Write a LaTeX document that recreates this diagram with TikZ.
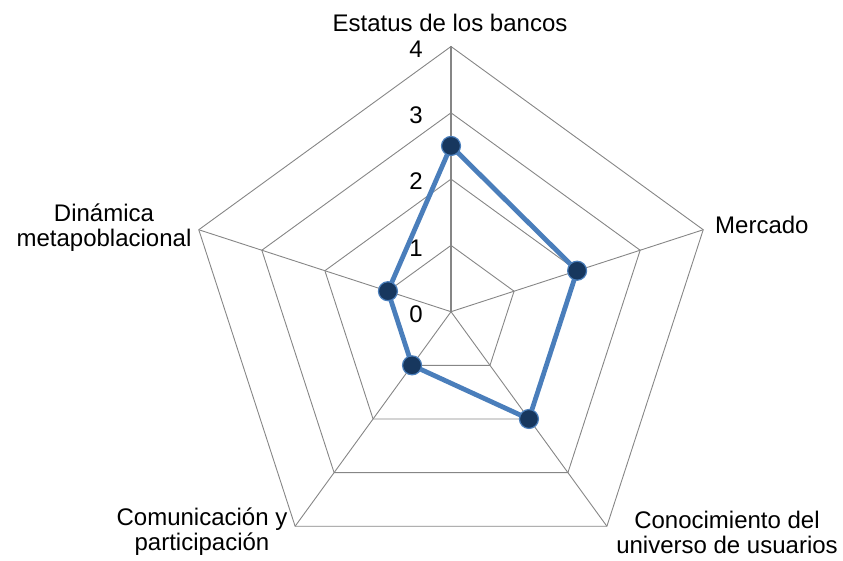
\documentclass[tikz,border=0pt]{standalone}
\usepackage{fontspec}
\setmainfont{Liberation Sans}
\usetikzlibrary{calc}
\definecolor{gridgray}{HTML}{868686}
\definecolor{serieblue}{HTML}{4A7EBB}
\definecolor{markerfill}{HTML}{17375E}
\begin{document}
\begin{tikzpicture}[x=1pt,y=1pt,
  gridline/.style={draw=gridgray,line width=0.9pt,line join=miter},
  spoke/.style={draw=gridgray,line width=0.9pt},
  valaxis/.style={draw=gridgray,line width=1.6pt},
  series/.style={draw=serieblue,line width=4.8pt,line join=round},
  marker/.style={circle,fill=markerfill,draw=serieblue,line width=1.2pt,inner sep=0pt,minimum size=19pt},
  lab/.style={font=\fontsize{24}{25}\selectfont,align=center,inner sep=0pt},
  ticklab/.style={font=\fontsize{24}{25}\selectfont,anchor=east,inner sep=0pt}]
\useasboundingbox (0,0) rectangle (843,560);
\coordinate (O) at (451,248.3);
\def\R{66.3}
% grid polygons
\foreach \k in {1,...,4}{
  \pgfmathsetmacro{\rr}{\k*\R}
  \draw[gridline] ($(O)+(90:\rr)$) -- ($(O)+(18:\rr)$) -- ($(O)+(-54:\rr)$)
    -- ($(O)+(-126:\rr)$) -- ($(O)+(162:\rr)$) -- cycle;
}
% outer vertices
\pgfmathsetmacro{\RR}{4*\R}
\coordinate (va) at ($(O)+(90:\RR)$);
\coordinate (vb) at ($(O)+(18:\RR)$);
\coordinate (vc) at ($(O)+(-54:\RR)$);
\coordinate (vd) at ($(O)+(-126:\RR)$);
\coordinate (ve) at ($(O)+(162:\RR)$);
% spokes
\draw[spoke] (O) -- (vb);
\draw[spoke] (O) -- (vc);
\draw[spoke] (O) -- (vd);
\draw[spoke] (O) -- (ve);
\draw[valaxis] (O) -- (va);
% tick labels
\foreach \k in {0,...,4}{
  \node[ticklab] (t\k) at ($(O)+(-28,\k*\R-2.5)$) {\k};
}
% axis labels
\node[lab,anchor=base] (la) at (450,528) {Estatus de los bancos};
\node[lab,anchor=base west] (lb) at (715,326) {Mercado};
\node[lab,anchor=base] (lc) at (727,7) {Conocimiento del\\universo de usuarios};
\node[lab,anchor=base] (ld) at (202,10) {Comunicación y\\participación};
\node[lab,anchor=base] (le) at (104,313) {Dinámica\\metapoblacional};
% data series
\coordinate (pa) at ($(O)+(90:{2.5*\R})$);
\coordinate (pb) at ($(O)+(18:{2*\R})$);
\coordinate (pc) at ($(O)+(-54:{2*\R})$);
\coordinate (pd) at ($(O)+(-126:{1*\R})$);
\coordinate (pe) at ($(O)+(162:{1*\R})$);
\draw[series] (pa) -- (pb) -- (pc) -- (pd) -- (pe) -- cycle;
\node[marker] (ma) at (pa) {};
\node[marker] (mb) at (pb) {};
\node[marker] (mc) at (pc) {};
\node[marker] (md) at (pd) {};
\node[marker] (me) at (pe) {};
\end{tikzpicture}
\end{document}
